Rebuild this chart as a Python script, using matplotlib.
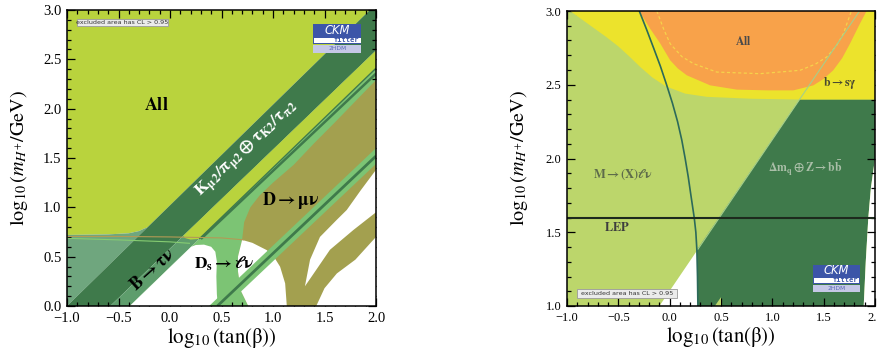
import numpy as np
import matplotlib
matplotlib.use('Agg')
import matplotlib.pyplot as plt
from matplotlib.patches import Polygon, Rectangle
from matplotlib.ticker import MultipleLocator

plt.rcParams['font.family'] = ['Liberation Serif', 'DejaVu Serif']
plt.rcParams['mathtext.fontset'] = 'stix'

# ---------------- left panel : leptonic decays (x = log10 tan b, y = log10 mH+)
k_upper = [(-1.0, 0.0), (1.94, 3.0)]          # K_mu2 band, upper-left edge
k_lower = [(-0.58, 0.0), (2.0, 2.59)]         # K_mu2 band, lower edge
btau_lower = [(-0.39, 0.0), (2.0, 2.41)]      # B->tau nu strip lower edge
ds_mid = [(0.30, 0.68), (2.0, 2.355)]         # dark line inside upper strip
dmu_upper = [(-0.27, 0.0), (2.0, 2.29)]       # D->mu nu upper-left edge
all_floor = [(-0.22, 0.795), (-0.25, 0.785), (-0.30, 0.76), (-0.40, 0.737),
             (-0.60, 0.726), (-1.0, 0.72)]
sliver_tip = [(0.127, 0.71), (0.15, 0.687), (0.20, 0.673), (0.284, 0.68)]
dmu_left = [(0.76, 0.0), (0.69, 0.15), (0.66, 0.35), (0.66, 0.5), (0.70, 0.67),
            (0.72, 0.85), (0.78, 1.0), (0.87, 1.12), (1.0, 1.25), (1.2, 1.43),
            (1.4, 1.65), (1.6, 1.86)]
hole_ds = [(0.205, 0.60), (0.25, 0.618), (0.33, 0.622), (0.40, 0.60), (0.44, 0.55),
           (0.455, 0.45), (0.45, 0.3), (0.455, 0.12), (0.465, 0.0)]
hole_mid = [(0.76, 0.0), (0.69, 0.15), (0.66, 0.35), (0.66, 0.5), (0.70, 0.67),
            (0.80, 0.64), (0.94, 0.566), (1.02, 0.48), (1.069, 0.398),
            (1.118, 0.229), (1.134, 0.0)]
hole_wedge = [(1.31, 0.2), (1.36, 0.47), (1.456, 0.70), (1.618, 0.872),
              (1.716, 0.973), (1.85, 1.17), (2.0, 1.38), (2.0, 0.95),
              (1.78, 0.77), (1.553, 0.57), (1.376, 0.3)]
hole_corner = [(1.42, 0.0), (1.50, 0.18), (1.62, 0.33), (1.80, 0.47), (2.0, 0.70),
               (2.0, 0.0)]
strip_up = [(0.38, 0.0), (2.0, 1.60)]
strip_mid = [(0.46, 0.0), (2.0, 1.52)]
strip_lo = [(0.54, 0.0), (2.0, 1.44)]
ds_line = [(-1.0, 0.686), (-0.5, 0.67), (0.0, 0.65), (0.194, 0.635)]
dmu_line = [(-1.0, 0.705), (-0.5, 0.705), (0.0, 0.70), (0.5, 0.69), (0.72, 0.67)]

# ---------------- right panel : loop processes
r_diag = [(-0.1, 1.0), (1.85, 3.0)]
m_curve = [(-0.296, 3.0), (-0.225, 2.875), (-0.157, 2.75), (-0.09, 2.625),
           (-0.03, 2.5), (0.027, 2.375), (0.077, 2.25), (0.118, 2.125),
           (0.151, 2.0), (0.181, 1.875), (0.207, 1.75), (0.239, 1.6),
           (0.255, 1.5), (0.265, 1.38), (0.271, 1.2), (0.275, 1.0)]
bb_right = [(2.0, 2.0), (1.96, 1.8), (1.935, 1.6), (1.91, 1.3), (1.89, 1.0)]
bsg_floor = [(-0.97, 3.0), (-0.86, 2.945), (-0.75, 2.89), (-0.62, 2.825),
             (-0.50, 2.76), (-0.39, 2.69), (-0.286, 2.62), (-0.17, 2.55),
             (-0.04, 2.49), (0.15, 2.44), (0.362, 2.418), (0.8, 2.405),
             (1.238, 2.40), (2.0, 2.40)]
all_r = [(-0.297, 3.0), (-0.19, 2.88), (-0.092, 2.78), (0.005, 2.666),
         (0.08, 2.61), (0.167, 2.564), (0.394, 2.496), (0.654, 2.467),
         (0.95, 2.462), (1.205, 2.462), (1.40, 2.496), (1.50, 2.54),
         (1.593, 2.598), (1.68, 2.68), (1.756, 2.778), (1.853, 2.914), (1.918, 3.0)]
all_dash = [(-0.125, 3.0), (-0.06, 2.88), (0.005, 2.778), (0.12, 2.69),
            (0.232, 2.643), (0.459, 2.586), (0.88, 2.575), (1.27, 2.598),
            (1.42, 2.64), (1.529, 2.688), (1.62, 2.76), (1.691, 2.845), (1.77, 3.0)]
lep_y = 1.6

LIME = '#b9d33d'
DARK = '#3f7a4b'
GREYGREEN = '#6fa67e'
BTAU = '#5e9d6c'
MED = '#7cc474'
OLIVE = '#a3a04f'


def on_line(line, y):
    (x0, y0), (x1, y1) = line
    return x0 + (y - y0) * (x1 - x0) / (y1 - y0)


def poly(ax, pts, color, z=1):
    ax.add_patch(Polygon(pts, closed=True, facecolor=color, edgecolor='none', zorder=z))


def trace(ax, pts, color, lw, ls='-', z=3):
    xs, ys = zip(*pts)
    ax.plot(xs, ys, color=color, lw=lw, ls=ls, zorder=z, solid_capstyle='butt')


def logo(ax, x0, x1, y0, y1):
    h = y1 - y0
    w = x1 - x0
    ax.add_patch(Rectangle((x0, y0 + 0.31 * h), w, 0.69 * h, facecolor='#3c55a8',
                           edgecolor='none', zorder=6))
    ax.add_patch(Rectangle((x0 + 0.015 * w, y0 + 0.33 * h), 0.97 * w, 0.2 * h,
                           facecolor='white', edgecolor='none', zorder=7))
    ax.add_patch(Rectangle((x0, y0), w, 0.26 * h, facecolor='#c5c8e6',
                           edgecolor='none', zorder=6))
    ax.text(x0 + 0.5 * w, y0 + 0.79 * h, 'CKM', color='white', style='italic',
            fontsize=8.3, family='DejaVu Sans', ha='center', va='center', zorder=8)
    ax.text(x1 - 0.04 * w, y0 + 0.43 * h, 'fitter', color='#3c55a8', fontsize=5.0,
            family='DejaVu Sans Mono', weight='bold', ha='right', va='center', zorder=8)
    ax.text(x0 + 0.5 * w, y0 + 0.13 * h, '2HDM', color='#5a6ab8', fontsize=4.3,
            family='DejaVu Sans', ha='center', va='center', zorder=8)


def cl_box(ax, x0, x1, y0, y1):
    ax.add_patch(Rectangle((x0, y0), x1 - x0, y1 - y0, facecolor='#ebebeb',
                           edgecolor='#9a9a9a', lw=0.6, zorder=6))
    ax.text(0.5 * (x0 + x1), 0.5 * (y0 + y1), 'excluded area has CL > 0.95',
            family='DejaVu Sans', fontsize=4.6, color='#333333', ha='center',
            va='center', zorder=7)


def style(ax, ymin, ymax, tsize):
    ax.set_xlim(-1.0, 2.0)
    ax.set_ylim(ymin, ymax)
    ax.xaxis.set_major_locator(MultipleLocator(0.5))
    ax.yaxis.set_major_locator(MultipleLocator(0.5))
    ax.xaxis.set_minor_locator(MultipleLocator(0.1))
    ax.yaxis.set_minor_locator(MultipleLocator(0.1))
    ax.xaxis.set_major_formatter(lambda v, p: f'{v:.1f}'.replace('-', '\u2212'))
    ax.yaxis.set_major_formatter(lambda v, p: f'{v:.1f}'.replace('-', '\u2212'))
    ax.tick_params(which='both', direction='in', top=True, right=True, width=0.9,
                   labelsize=tsize, pad=4)
    ax.tick_params(which='major', length=6)
    ax.tick_params(which='minor', length=3)
    for s in ax.spines.values():
        s.set_linewidth(1.1)
        s.set_zorder(10)
    ax.set_xlabel(r'$\log_{10}\left(\mathrm{tan}(\mathrm{\beta})\right)$', fontsize=15,
                  labelpad=1)
    ax.set_ylabel(r'$\log_{10}\left(m_{H^{+}}/\mathrm{GeV}\right)$', fontsize=14.5)
    ax.yaxis.set_label_coords(-0.12, 0.5)


fig = plt.figure(figsize=(8.77, 3.52), dpi=100)
ax1 = fig.add_axes([67 / 877, 46 / 352, 309 / 877, 296 / 352])
ax2 = fig.add_axes([567 / 877, 46 / 352, 308 / 877, 295 / 352])

# ---- left panel layers
poly(ax1, [(-1.0, 3.0), (k_upper[1][0], 3.0)] + all_floor, LIME)
poly(ax1, [k_upper[0], (-1.0, 0.72)] + all_floor[::-1], GREYGREEN)
poly(ax1, [k_upper[0], k_upper[1], (2.0, 3.0), k_lower[1], k_lower[0]], DARK)
poly(ax1, [k_lower[0], k_lower[1], btau_lower[1], btau_lower[0]], BTAU)
poly(ax1, [btau_lower[0], btau_lower[1], (2.0, 0.0)], MED)
poly(ax1, sliver_tip + [btau_lower[1], k_lower[1]], LIME, 2)
trace(ax1, [sliver_tip[-1], btau_lower[1]], DARK, 1.0, z=2)
poly(ax1, dmu_left + [dmu_upper[1], (2.0, 0.0)], OLIVE, 2)
trace(ax1, ds_mid, DARK, 1.8, z=2)
poly(ax1, [btau_lower[0]] + hole_ds, 'white', 3)
poly(ax1, hole_mid, 'white', 3)
poly(ax1, hole_wedge, 'white', 3)
poly(ax1, hole_corner, 'white', 3)
poly(ax1, [strip_up[0], strip_up[1], strip_lo[1], strip_lo[0]], MED, 4)
trace(ax1, strip_mid, DARK, 2.0, z=4)
trace(ax1, dmu_line, '#b39a55', 0.8, z=5)
trace(ax1, ds_line, '#86cc72', 0.8, z=5)

ax1.text(-0.13, 2.03, r'$\mathbf{All}$', fontsize=13, ha='center', va='center', zorder=8)
ax1.text(0.75, 1.58, r'$\mathbf{K_{\mu2}/\pi_{\mu2}\oplus\tau_{K2}/\tau_{\pi2}}$',
         color='white', fontsize=12.5, rotation=43, ha='center', va='center', zorder=8)
ax1.text(-0.17, 0.37, r'$\mathbf{B\rightarrow\tau\nu}$', fontsize=13, rotation=42,
         ha='center', va='center', zorder=8)
ax1.text(0.52, 0.43, r'$\mathbf{D_{s}\rightarrow\ell\nu}$', fontsize=12.5,
         ha='center', va='center', zorder=8)
ax1.text(1.17, 1.07, r'$\mathbf{D\rightarrow\mu\nu}$', fontsize=13,
         ha='center', va='center', zorder=8)
cl_box(ax1, -0.906, -0.016, 2.838, 2.906)
logo(ax1, 1.39, 1.857, 2.567, 2.858)
style(ax1, 0.0, 3.0, 10.5)

# ---- right panel layers
LG = '#bcd66b'
poly(ax2, [(-1.0, 1.0), (2.0, 1.0), (2.0, 3.0), (-1.0, 3.0)], LG, 0)
poly(ax2, [r_diag[0], (on_line(r_diag, 1.38), 1.38)] + m_curve[-2:], 'white', 1)
poly(ax2, m_curve[-1:-4:-1] + [(on_line(r_diag, 2.4), 2.4), (2.0, 2.4)] + bb_right, DARK, 1)
poly(ax2, bb_right + [(2.0, 1.0)], 'white', 1)
poly(ax2, [(0.44, 1.0), (0.50, 1.06), (0.50, 1.0)], LG, 2)
poly(ax2, bsg_floor + [(2.0, 3.0)], '#ece32c', 2)
poly(ax2, all_r, '#f8a24a', 3)
trace(ax2, all_dash, '#f6d24a', 0.9, ls=(0, (2.5, 2)), z=4)
trace(ax2, [(on_line(r_diag, 1.38), 1.38), r_diag[1]], '#a6cf8a', 0.8, z=4)
trace(ax2, m_curve, '#2c6a5a', 1.2, z=4)
ax2.axhline(lep_y, color='#1d2a1d', lw=1.5, zorder=5)

ax2.text(0.72, 2.79, r'$\mathbf{All}$', fontsize=8.5, color='#4a4a4a', ha='center',
         va='center', zorder=8)
ax2.text(1.66, 2.51, r'$\mathbf{b\rightarrow s\gamma}$', fontsize=8.5, color='#4a4a30',
         ha='center', va='center', zorder=8)
ax2.text(-0.46, 1.89, r'$\mathbf{M\rightarrow(X)\ell\nu}$', fontsize=9, color='#5d6b4a',
         ha='center', va='center', zorder=8)
ax2.text(1.32, 1.93, r'$\mathbf{\Delta m_{q}\oplus Z\rightarrow b\bar{b}}$', fontsize=8.5,
         color='#aabfa8', ha='center', va='center', zorder=8)
ax2.text(-0.51, 1.53, r'$\mathbf{LEP}$', fontsize=9, color='#3e3e3e', ha='center',
         va='center', zorder=8)
cl_box(ax2, -0.903, 0.076, 1.056, 1.117)
logo(ax2, 1.40, 1.85, 1.095, 1.28)
style(ax2, 1.0, 3.0, 9)

fig.savefig('out.png', dpi=100)
